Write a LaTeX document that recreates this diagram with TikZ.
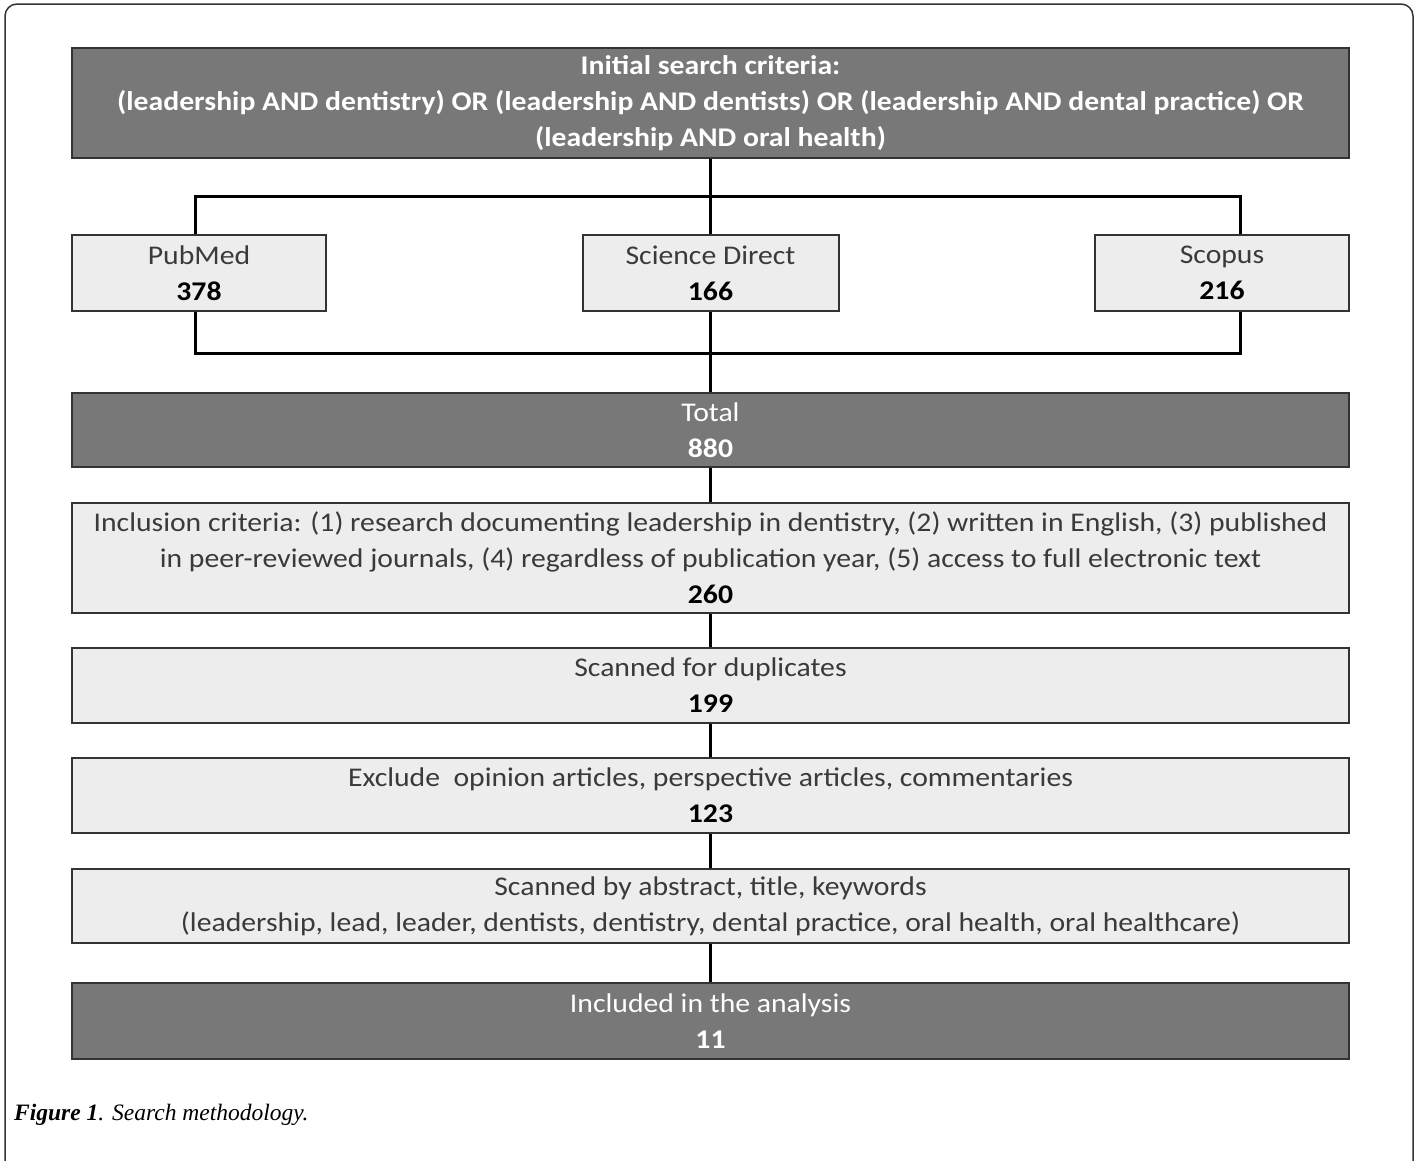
\documentclass[tikz,border=0pt]{standalone}
\usepackage{fontspec}
\usetikzlibrary{backgrounds}
\setmainfont{Carlito}[FakeStretch=1.1]
\newfontfamily\capfont{Liberation Serif}
\definecolor{darkbox}{HTML}{787878}
\definecolor{lightbox}{HTML}{EDEDED}
\definecolor{edge}{HTML}{333333}
\definecolor{txt}{HTML}{3A3A3A}
\begin{document}
\begin{tikzpicture}[x=1pt,y=-1pt,
  base/.style={draw=edge,line width=2pt,inner sep=0pt,align=center,
    font=\fontsize{27}{36}\selectfont},
  darknode/.style={base,fill=darkbox,text=white},
  lightnode/.style={base,fill=lightbox,text=txt},
  conn/.style={line width=3pt,black}]
\clip (0,0) rectangle (1421,1160);
\draw[line width=1.5pt,rounded corners=12pt,edge] (5,4) rectangle (1413,1250);

\node[darknode,minimum width=1277pt,minimum height=110pt] (top) at (710.5,103)
  {\bfseries Initial search criteria:\\\bfseries (leadership AND dentistry) OR (leadership AND dentists) OR (leadership AND dental practice) OR\\\bfseries (leadership AND oral health)};

\node[lightnode,minimum width=254pt,minimum height=76pt] (pm) at (199,273)
  {PubMed\\\textcolor{black}{\bfseries 378}};
\node[lightnode,minimum width=256pt,minimum height=76pt] (sd) at (710.5,273)
  {Science Direct\\\textcolor{black}{\bfseries 166}};
\node[lightnode,minimum width=254pt,minimum height=76pt] (sc) at (1222,273)
  {Scopus\\\textcolor{black}{\bfseries 216}};

\node[darknode,minimum width=1277pt,minimum height=74pt] (tot) at (710.5,430)
  {Total\\\bfseries 880};
\node[lightnode,minimum width=1277pt,minimum height=110pt] (inc) at (710.5,558)
  {Inclusion criteria: (1) research documenting leadership in dentistry, (2) written in English, (3) published\\in peer-reviewed journals, (4) regardless of publication year, (5) access to full electronic text\\\textcolor{black}{\bfseries 260}};
\node[lightnode,minimum width=1277pt,minimum height=75pt] (dup) at (710.5,685.5)
  {Scanned for duplicates\\\textcolor{black}{\bfseries 199}};
\node[lightnode,minimum width=1277pt,minimum height=75pt] (exc) at (710.5,795.5)
  {Exclude\ \ opinion articles, perspective articles, commentaries\\\textcolor{black}{\bfseries 123}};
\node[lightnode,minimum width=1277pt,minimum height=74pt] (abs) at (710.5,906)
  {Scanned by abstract, title, keywords\\(leadership, lead, leader, dentists, dentistry, dental practice, oral health, oral healthcare)};
\node[darknode,minimum width=1277pt,minimum height=76pt] (fin) at (710.5,1021)
  {Included in the analysis\\\bfseries 11};

\coordinate (tl) at (195,196);
\coordinate (tr) at (1240,196);
\coordinate (bl) at (195,353);
\coordinate (br) at (1240,353);

\begin{scope}[on background layer]
\draw[conn] (top.south) -- (sd.north);
\draw[conn] (pm.north -| tl) -- (tl) -- (tr) -- (sc.north -| tr);
\draw[conn] (pm.south -| bl) -- (bl) -- (br) -- (sc.south -| br);
\draw[conn] (sd.south) -- (tot.north);
\draw[conn] (tot.south) -- (inc.north);
\draw[conn] (inc.south) -- (dup.north);
\draw[conn] (dup.south) -- (exc.north);
\draw[conn] (exc.south) -- (abs.north);
\draw[conn] (abs.south) -- (fin.north);
\end{scope}

\node[anchor=base west,inner sep=0pt,font=\capfont\fontsize{23.5}{28}\selectfont] (cap) at (14,1120)
  {\textbf{\textit{Figure 1}}\textit{. Search methodology.}};
\end{tikzpicture}
\end{document}
